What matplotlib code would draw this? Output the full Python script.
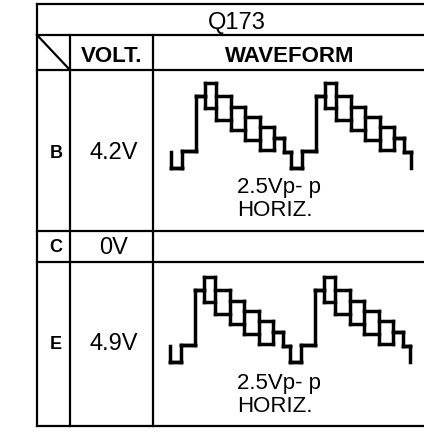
import matplotlib
matplotlib.use("Agg")
import matplotlib.pyplot as plt
import numpy as np

# table content
title = "Q173"
headers = ["VOLT.", "WAVEFORM"]
pins = ["B", "C", "E"]
volts = ["4.2V", "0V", "4.9V"]
wave_note = ["2.5Vp- p", "HORIZ."]

# one horizontal period of the waveform (us from sync rise), levels in volts
# top/bottom differ where the trace is drawn as an envelope (boxes)
seg_start = [0.0, 7.5, 12.5, 18.5, 26.0, 33.5, 41.3, 48.9, 54.2, 57.9]
seg_top = [0.50, 2.12, 2.50, 2.12, 1.79, 1.50, 1.20, 0.89, 0.48, 0.0]
seg_bot = [0.50, 2.12, 1.76, 1.41, 1.12, 0.82, 0.53, 0.89, 0.48, 0.0]
period = 63.5

W, H = 424, 433
fig = plt.figure(figsize=(W / 100, H / 100), dpi=100)
ax = fig.add_axes([0, 0, 1, 1])
ax.set_xlim(0, W)
ax.set_ylim(H, 0)
ax.axis("off")

font = ["Liberation Sans", "DejaVu Sans"]
lw_tab = 1.6

# grid of the table
for y in [4, 35, 70, 231, 262, 426]:
    ax.plot([37, W], [y, y], color="black", lw=lw_tab, solid_capstyle="projecting")
ax.plot([37, 37], [4, 426], color="black", lw=lw_tab, solid_capstyle="projecting")
ax.plot([70, 70], [35, 426], color="black", lw=lw_tab)
ax.plot([153, 153], [35, 426], color="black", lw=lw_tab)
ax.plot([37, 70], [35, 70], color="black", lw=lw_tab)

ax.text(237, 23, title, ha="center", va="center", fontsize=17, family=font)
ax.text(112, 57, headers[0], ha="center", va="center", fontsize=16,
        fontweight="bold", family=font)
ax.text(290, 57, headers[1], ha="center", va="center", fontsize=16,
        fontweight="bold", family=font)

row_y = [153, 248, 344.5]
for pin, v, y in zip(pins, volts, row_y):
    ax.text(56, y, pin, ha="center", va="center", fontsize=13,
            fontweight="bold", family=font)
    ax.text(114, y, v, ha="center", va="center", fontsize=17, family=font)


def build_trace(n_cycles):
    # segments over cycles -1..n_cycles-1, trimmed between two sync drops
    t0, t1, top, bot = [], [], [], []
    for k in range(-1, n_cycles):
        starts = np.array(seg_start) + k * period
        ends = np.append(starts[1:], (k + 1) * period)
        t0 += list(starts)
        t1 += list(ends)
        top += seg_top
        bot += seg_bot
    t0, t1, top, bot = map(np.array, (t0, t1, top, bot))
    drop = seg_start[-1] - period
    t_first = drop
    t_last = drop + n_cycles * period
    keep = (t0 >= t_first - 1e-6) & (t1 <= t_last + 1e-6)
    # verticals at every boundary, spanning both neighbouring segments
    vx = t1[:-1]
    vlo = np.minimum(bot[:-1], bot[1:])
    vhi = np.maximum(top[:-1], top[1:])
    vkeep = (vx >= t_first - 1e-6) & (vx <= t_last + 1e-6)
    return (t0[keep], t1[keep], top[keep], bot[keep],
            vx[vkeep], vlo[vkeep], vhi[vkeep])


def draw_wave(px_t0, px_v0):
    # px_t0: pixel x of first sync rise, px_v0: pixel y of 0 V
    sx = 120 / period   # px per us
    sy = 34.0           # px per volt
    tmin, tmax = -10, 128
    vmin, vmax = -0.4, 2.9
    left = px_t0 + tmin * sx
    right = px_t0 + tmax * sx
    top_px = px_v0 - vmax * sy
    bot_px = px_v0 - vmin * sy
    wax = fig.add_axes([left / W, 1 - bot_px / H, (right - left) / W,
                        (bot_px - top_px) / H])
    wax.set_xlim(tmin, tmax)
    wax.set_ylim(vmin, vmax)
    wax.axis("off")
    t0, t1, tp, bt, vx, vlo, vhi = build_trace(2)
    lw = 2.5
    wax.hlines(tp, t0, t1, color="black", lw=lw, capstyle="projecting")
    wax.hlines(bt, t0, t1, color="black", lw=lw, capstyle="projecting")
    wax.vlines(vx, vlo, vhi, color="black", lw=lw, capstyle="projecting")


draw_wave(181.5, 168)
draw_wave(180.5, 362)

for y_base in [193, 389]:
    ax.text(237, y_base, wave_note[0], ha="left", va="baseline", fontsize=16,
            family=font)
    ax.text(237, y_base + 23, wave_note[1], ha="left", va="baseline",
            fontsize=16, family=font)

fig.savefig("out.png", dpi=100, facecolor="white")
